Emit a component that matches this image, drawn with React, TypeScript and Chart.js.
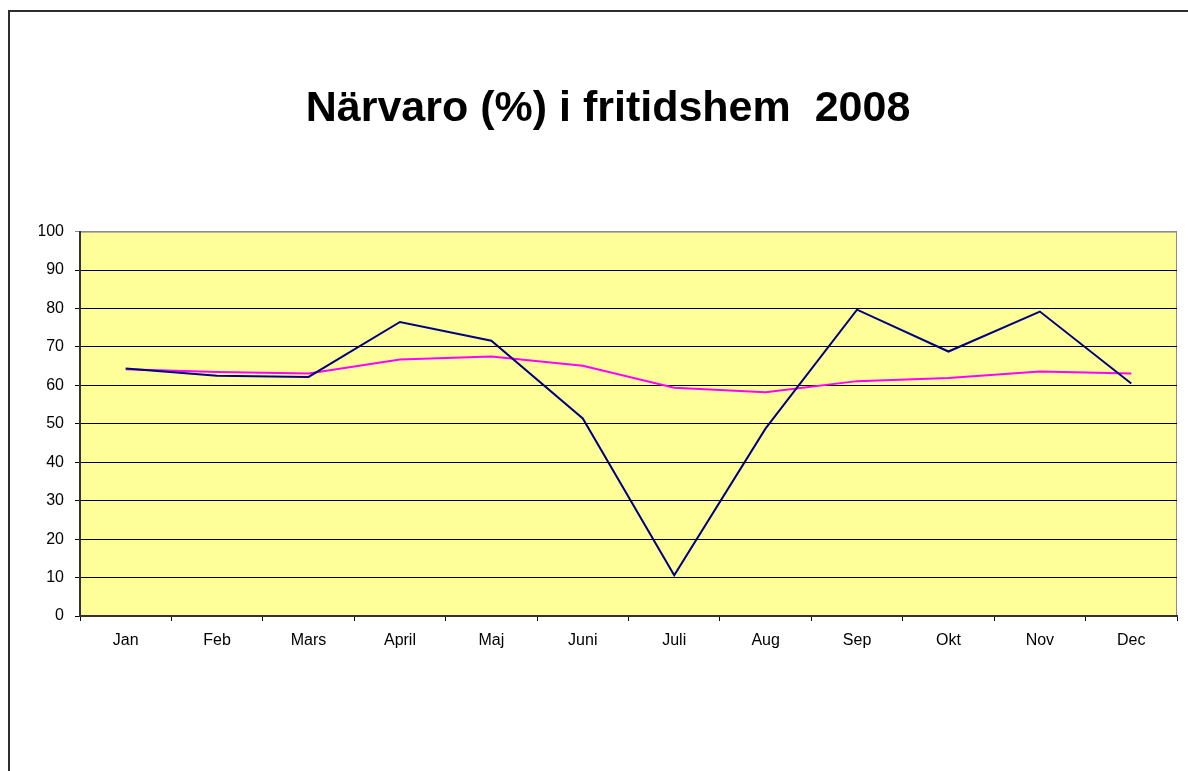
import React, { useEffect, useRef } from "react";
import { Chart, registerables } from "chart.js";

Chart.register(...registerables);

const months = ["Jan", "Feb", "Mars", "April", "Maj", "Juni", "Juli", "Aug", "Sep", "Okt", "Nov", "Dec"];
const seriesA = [64.4, 62.5, 62.2, 76.5, 71.6, 51.4, 10.6, 48.8, 79.7, 68.8, 79.2, 60.5];
const seriesB = [64.2, 63.5, 63.1, 66.7, 67.5, 65.1, 59.4, 58.2, 61.1, 61.9, 63.6, 63.1];
const titleText = "Närvaro (%) i fritidshem  2008";
const yMin = 0;
const yMax = 100;
const yStep = 10;

const FONT = "'Liberation Sans', Arial, Helvetica, sans-serif";

const plotBg = {
  id: "plotBg",
  beforeDraw(chart: any) {
    const { ctx, chartArea } = chart;
    if (!chartArea) return;
    ctx.save();
    ctx.fillStyle = "#FFFF99";
    ctx.fillRect(chartArea.left, chartArea.top, chartArea.right - chartArea.left, chartArea.bottom - chartArea.top);
    ctx.strokeStyle = "#8c8c8c";
    ctx.lineWidth = 1;
    ctx.strokeRect(chartArea.left + 0.5, chartArea.top + 0.5, chartArea.right - chartArea.left - 1, chartArea.bottom - chartArea.top - 1);
    ctx.restore();
  },
};

export default function App() {
  const ref = useRef<HTMLCanvasElement | null>(null);

  useEffect(() => {
    if (!ref.current) return;
    const chart = new Chart(ref.current, {
      type: "line",
      data: {
        labels: months,
        datasets: [
          {
            label: "A",
            data: seriesA,
            borderColor: "#000080",
            backgroundColor: "#000080",
            borderWidth: 2,
            pointRadius: 0,
            tension: 0,
          },
          {
            label: "B",
            data: seriesB,
            borderColor: "#FF00FF",
            backgroundColor: "#FF00FF",
            borderWidth: 2,
            pointRadius: 0,
            tension: 0,
          },
        ],
      },
      options: {
        responsive: false,
        animation: false,
        events: [],
        layout: { padding: { left: 39, right: 11, top: 12, bottom: 115 } },
        plugins: {
          legend: { display: false },
          tooltip: { enabled: false },
          title: {
            display: true,
            text: titleText,
            color: "#000",
            font: { family: FONT, size: 43, weight: "bold", lineHeight: 1.2 },
            padding: { top: 71, bottom: 97 },
          },
        },
        scales: {
          x: {
            offset: true,
            grid: {
              offset: true,
              drawOnChartArea: false,
              tickLength: 5,
              color: "#000",
              lineWidth: 1,
            },
            border: { color: "#333", width: 2 },
            ticks: {
              color: "#000",
              font: { family: FONT, size: 16 },
              padding: 10,
              maxRotation: 0,
              autoSkip: false,
            },
            afterFit(scale: any) {
              scale.height = 40;
            },
          },
          y: {
            min: yMin,
            max: yMax,
            grid: {
              tickLength: 5,
              color: (c: any) => (c.tick && c.tick.value === yMax ? "#8c8c8c" : "#000"),
              lineWidth: 1,
            },
            border: { color: "#333", width: 2 },
            ticks: {
              stepSize: yStep,
              color: "#000",
              font: { family: FONT, size: 16 },
              padding: 11,
            },
            afterFit(scale: any) {
              scale.width = 41;
            },
          },
        },
      },
      plugins: [plotBg],
    });
    return () => chart.destroy();
  }, []);

  return (
    <>
      <div
        style={{
          position: "fixed",
          left: 8,
          top: 10,
          width: 1300,
          height: 900,
          border: "2px solid #2e2e2e",
          boxSizing: "border-box",
        }}
      />
      <canvas
        ref={ref}
        width={1188}
        height={771}
        style={{ position: "fixed", left: 0, top: 0, width: 1188, height: 771 }}
      />
    </>
  );
}
